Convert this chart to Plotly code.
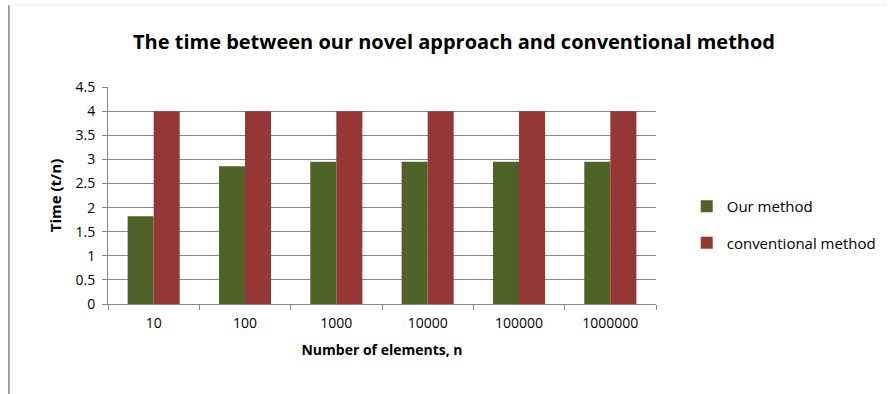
import plotly.graph_objects as go

categories = ["10", "100", "1000", "10000", "100000", "1000000"]
our_method = [1.82, 2.86, 2.95, 2.95, 2.95, 2.95]
conventional = [4, 4, 4, 4, 4, 4]
y_ticks = [0, 0.5, 1, 1.5, 2, 2.5, 3, 3.5, 4, 4.5]
y_labels = ["0", "0.5", "1", "1.5", "2", "2.5", "3", "3.5", "4", "4.5"]

W, H = 893, 394
L, R, T, B = 108, 232, 87, 90
pw = W - L - R
ph = H - T - B

font = "Open Sans, Liberation Sans, sans-serif"

fig = go.Figure()
fig.add_trace(go.Bar(name="Our method", x=categories, y=our_method, legendgroup="a",
                     marker=dict(color="#4F6228", line=dict(width=0))))
fig.add_trace(go.Bar(name="conventional method", x=categories, y=conventional, legendgroup="b",
                     marker=dict(color="#953735", line=dict(width=0))))

fig.update_layout(
    width=W, height=H,
    margin=dict(l=L, r=R, t=T, b=B),
    paper_bgcolor="white", plot_bgcolor="white",
    barmode="group", bargap=0.43, bargroupgap=0,
    font=dict(family=font, size=12, color="black"),
    title=dict(text="<b>The time between our novel approach and conventional method</b>",
               x=454 / W, xref="container", xanchor="center", y=1 - 42 / H, yanchor="middle",
               font=dict(size=20, family=font, color="black")),
    legend=dict(x=(692 - L) / pw, xanchor="left", y=1 - (190 - T) / ph, yanchor="top",
                font=dict(size=15, family=font), tracegroupgap=14, traceorder="grouped",
                itemwidth=30, bgcolor="rgba(0,0,0,0)"),
    showlegend=True,
    xaxis=dict(type="category", showline=True, linecolor="#868686", linewidth=1,
               ticks="outside", tickson="boundaries", ticklen=5, tickcolor="#868686",
               tickfont=dict(size=14), showgrid=False, ticklabelstandoff=6,
               title=dict(text="<b>Number of elements, n</b>", font=dict(size=14), standoff=14)),
    yaxis=dict(range=[0, 4.503], tickvals=y_ticks, ticktext=y_labels,
               showline=True, linecolor="#868686", linewidth=1,
               ticks="outside", ticklen=5, tickcolor="#868686",
               showgrid=True, gridcolor="#868686", gridwidth=1,
               tickfont=dict(size=14), zeroline=False, ticklabelstandoff=4,
               title=dict(text="<b>Time (t/n)</b>", font=dict(size=15), standoff=10)),
    shapes=[
        dict(type="line", xref="paper", yref="paper",
             x0=(8 - L) / pw, x1=(8 - L) / pw, y0=1 + (T - 5) / ph, y1=-(B) / ph - 0.01,
             line=dict(color="#868686", width=1.5)),
        dict(type="line", xref="paper", yref="paper",
             x0=(8 - L) / pw, x1=(W - L) / pw, y0=1 + (T - 5) / ph, y1=1 + (T - 5) / ph,
             line=dict(color="#eeeeee", width=1)),
    ],
)
fig.write_html("out.html")
